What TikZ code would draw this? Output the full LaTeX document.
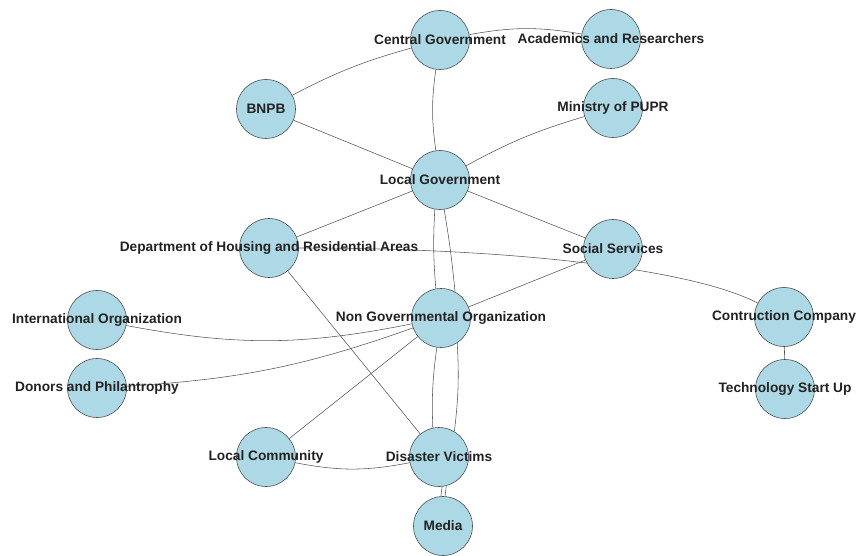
\documentclass[tikz,border=0pt]{standalone}
\usepackage{fontspec}
\setmainfont{Liberation Sans}
\usetikzlibrary{backgrounds}
\definecolor{nodefill}{RGB}{173,216,230}
\definecolor{nodeline}{RGB}{80,80,80}
\definecolor{edgecol}{RGB}{85,85,85}
\definecolor{txtcol}{RGB}{34,34,34}
\tikzset{
  actor/.style={circle,draw=nodeline,fill=nodefill,line width=0.6pt,minimum size=59pt,inner sep=0pt},
  lbl/.style={text=txtcol,font=\fontsize{13.7}{16}\selectfont\bfseries,inner sep=0pt},
  link/.style={draw=edgecol,line width=0.55pt}
}
\begin{document}
\begin{tikzpicture}[x=1pt,y=-1pt]
\useasboundingbox (0,0) rectangle (860,556);
% nodes
\node[actor] (cg)    at (440,40)  {};
\node[actor] (ar)    at (611,39)  {};
\node[actor] (bnpb)  at (266,109) {};
\node[actor] (pupr)  at (613,108) {};
\node[actor] (lg)    at (440,180) {};
\node[actor] (dh)    at (269,248) {};
\node[actor] (ss)    at (613,249) {};
\node[actor] (io)    at (97,320)  {};
\node[actor] (ngo)   at (441,318) {};
\node[actor] (don)   at (97,388)  {};
\node[actor] (cc)    at (784,317) {};
\node[actor] (ts)    at (785,389) {};
\node[actor] (lc)    at (266,457) {};
\node[actor] (dv)    at (439,457) {};
\node[actor] (media) at (443,526) {};
% edges
\begin{pgfonlayer}{background}
\fill[white] (0,0) rectangle (860,556);
\path[link] (bnpb) to[bend left=6] (cg);
\path[link] (cg) to[bend left=10] (ar);
\path[link] (cg) to[bend right=8] (lg);
\path[link] (bnpb) -- (lg);
\path[link] (pupr) to[bend right=6] (lg);
\path[link] (lg) -- (dh);
\path[link] (lg) -- (ss);
\path[link] (lg.-100) to[bend right=4] (ngo.100);
\path[link] (lg.-82) to[bend left=2] (ngo.62);
\path[link] (ngo.-98) to[bend right=5] (dv.102);
\path[link] (ngo.-57) to[bend left=5] (dv.59);
\path[link] (dv.-84) -- (media.94);
\path[link] (dv.-76) -- (media.86);
\path[link] (ss) -- (ngo);
\path[link] (io) to[bend right=11] (ngo);
\path[link] (don) to[bend right=8] (ngo);
\path[link] (lc) -- (ngo);
\path[link] (dh) -- (dv);
\path[link] (lc) to[bend right=11] (dv);
\path[link] (dh) .. controls (525,248) and (697,271) .. (cc);
\path[link] (cc) -- (ts);
\end{pgfonlayer}
% labels
\node[lbl] at (cg) {Central Government};
\node[lbl] at (ar) {Academics and Researchers};
\node[lbl] at (bnpb) {BNPB};
\node[lbl] at (pupr) {Ministry of PUPR};
\node[lbl] at (lg) {Local Government};
\node[lbl] at (dh) {Department of Housing and Residential Areas};
\node[lbl] at (ss) {Social Services};
\node[lbl] at (io) {International Organization};
\node[lbl] at (ngo) {Non Governmental Organization};
\node[lbl] at (don) {Donors and Philantrophy};
\node[lbl] at (cc) {Contruction Company};
\node[lbl] at (ts) {Technology Start Up};
\node[lbl] at (lc) {Local Community};
\node[lbl] at (dv) {Disaster Victims};
\node[lbl] at (media) {Media};
\end{tikzpicture}
\end{document}
